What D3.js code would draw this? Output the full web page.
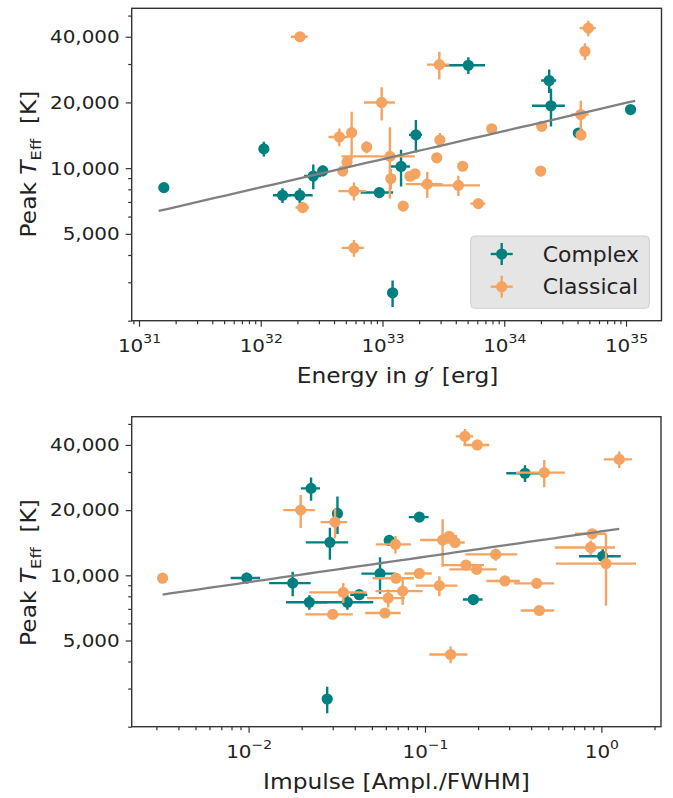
<!DOCTYPE html>
<html><head><meta charset="utf-8">
<script src="https://cdn.jsdelivr.net/npm/d3@7"></script>
<style>
body{margin:0;background:#fff}
svg{display:block}
text{font-family:"DejaVu Sans",sans-serif;fill:#222}
</style>
</head><body>
<svg id="c" width="673" height="798"></svg>
<script>
// ---------------- data ----------------
const seriesNames = ["Complex", "Classical"];
const seriesColors = ["#008080", "#f4a460"];

// Complex flares
const complexEnergy = [1.60e31, 1.06e32, 1.51e32, 2.09e32, 2.70e32, 3.23e32, 9.42e32, 1.21e33, 1.42e33, 1.88e33, 5.07e33, 2.34e34, 2.42e34, 4.06e34, 1.09e35];
const complexEnergyErr = [0.15e31, 0.08e32, 0.25e32, 0.58e32, 0.43e32, 0.30e32, 2.8e32, 0.07e33, 0.26e33, 0.23e33, 1.88e33, 0.33e34, 0.73e34, 0.20e34, 0.08e35];
const complexImpulse = [0.0424, 1.017, 0.0221, 0.0363, 0.01778, 0.00976, 0.188, 0.0279, 0.0556, 0.0289, 0.369, 0.0226, 0.0319, 0.0627, 0.0929];
const complexImpulseErr = [0.0047, 0.27, 0.0058, 0.0146, 0.0047, 0.00185, 0.024, 0.0008, 0.012, 0.0078, 0.08, 0.0028, 0.002, 0.004, 0.012];
const complexTemp = [8140, 12250, 7510, 7510, 9200, 9720, 7730, 2685, 10180, 14200, 29600, 25200, 19300, 14490, 18560];
const complexTempErr = [400, 950, 580, 580, 1200, 550, 400, 375, 1950, 2400, 2600, 3100, 3800, 400, 500];

// Classical flares
const classicalEnergy = [2.10e32, 9.84e32, 4.42e32, 5.58e32, 7.41e32, 1.15e33, 4.71e32, 5.11e32, 5.83e32, 1.17e33, 2.21e32, 5.83e32, 1.68e33, 1.85e33, 1.48e33, 2.33e33, 4.20e33, 2.79e33, 2.96e33, 4.56e33, 6.12e33, 2.93e33, 7.89e33, 2.03e34, 1.99e34, 4.25e34, 4.27e34, 4.90e34, 4.60e34];
const classicalEnergyErr = [0.33e32, 2.8e32, 0.82e32, 0.4e32, 0.4e32, 0.69e33, 0.4e32, 0.4e32, 1.49e32, 0.1e33, 0.28e32, 1.21e32, 0.1e33, 0.1e33, 0.12e33, 0.78e33, 2.13e33, 0.15e33, 0.15e33, 0.2e33, 0.86e33, 0.61e33, 0.3e33, 0.1e34, 0.1e34, 0.69e34, 0.2e34, 0.74e34, 0.2e34];
const classicalImpulse = [0.198, 0.01974, 0.068, 0.1259, 0.2517, 1.062, 0.0685, 0.1964, 0.0619, 0.1206, 0.02998, 0.1398, 0.4297, 0.284, 0.0593, 0.0747, 0.0344, 0.1708, 0.8696, 0.0929, 0.4446, 0.4745, 0.1373, 0.888, 0.003254, 0.0309, 0.148, 0.1685, 1.263];
const classicalImpulseErr = [0.033, 0.004, 0.0154, 0.032, 0.082, 0.51, 0.018, 0.059, 0.015, 0.032, 0.009, 0.034, 0.11, 0.061, 0.0135, 0.0224, 0.0123, 0.045, 0.325, 0.0164, 0.096, 0.147, 0.015, 0.18, 0.00017, 0.0053, 0.02, 0.019, 0.23];
const classicalTemp = [40000, 20000, 13900, 14550, 12490, 11320, 9700, 10650, 7850, 8960, 6600, 4310, 9180, 9420, 6700, 8450, 8340, 11150, 13450, 10200, 6880, 29800, 15150, 15550, 9700, 17600, 14180, 43800, 34300];
const classicalTempErr = [1000, 3460, 1300, 3600, 800, 4080, 500, 500, 740, 950, 280, 380, 300, 300, 300, 1150, 880, 400, 1030, 400, 300, 4300, 400, 500, 400, 2750, 500, 3600, 3000];

// Power-law fits: log10(T) = a + b*log10(x), drawn over xRange
const fitEnergyCoef = [-0.216, 0.129];
const fitEnergyRange = [1.45e31, 1.19e35];
const fitImpulseCoef = [4.2028, 0.1172];
const fitImpulseRange = [0.003254, 1.263];

// Axes
const yDomain = [2000, 54000];
const yTickValues = [5000, 10000, 20000, 40000];
const yTickLabels = ["5,000", "10,000", "20,000", "40,000"];
const energyDomain = [8.71e30, 1.957e35];
const impulseDomain = [0.002174, 2.178];
const energyMajorTicks = [1e31, 1e32, 1e33, 1e34, 1e35];
const impulseMajorTicks = [1e-2, 1e-1, 1e0];

// ---------------- drawing ----------------
const svg = d3.select('#c');
const STRETCH = 1.09;
const MARKER_R = 5.6;
const BAR_W = 2.4;

function minorLog(domain, majors) {
  const out = [];
  const lo = Math.floor(Math.log10(domain[0])), hi = Math.ceil(Math.log10(domain[1]));
  for (let e = lo; e <= hi; e++) for (let k = 1; k <= 9; k++) {
    const v = k * Math.pow(10, e);
    if (v >= domain[0] && v <= domain[1] && !majors.some(m => Math.abs(m - v) / v < 1e-9)) out.push(v);
  }
  return out;
}

function drawPanel(p, idx) {
  const x = d3.scaleLog().domain(p.xDomain).range([p.left, p.right]);
  const y = d3.scaleLog().domain(yDomain).range([p.bottom, p.top]);
  const g = svg.append('g');

  const clipId = 'clip' + idx;
  svg.append('clipPath').attr('id', clipId).append('rect')
    .attr('x', p.left).attr('y', p.top).attr('width', p.right - p.left).attr('height', p.bottom - p.top);

  // Y axis ticks
  const yMinor = minorLog(yDomain, yTickValues);
  g.append('g').attr('transform', `translate(${p.left},0)`)
    .call(d3.axisLeft(y).tickValues(yMinor).tickSize(3.5).tickFormat(''));
  const yAx = g.append('g').attr('transform', `translate(${p.left},0)`)
    .call(d3.axisLeft(y).tickValues(yTickValues).tickSize(6).tickPadding(5)
      .tickFormat((d) => yTickLabels[yTickValues.indexOf(d)]));
  yAx.selectAll('.tick text').attr('font-size', 18.3).attr('font-family', '"DejaVu Sans",sans-serif')
    .attr('transform', `scale(${STRETCH},1)`);

  // X axis ticks
  const xMinor = minorLog(p.xDomain, p.majors);
  g.append('g').attr('transform', `translate(0,${p.bottom})`)
    .call(d3.axisBottom(x).tickValues(xMinor).tickSize(3.5).tickFormat(''));
  const xAx = g.append('g').attr('transform', `translate(0,${p.bottom})`)
    .call(d3.axisBottom(x).tickValues(p.majors).tickSize(6).tickFormat(''));
  xAx.selectAll('.tick text').each(function (d) {
    const e = Math.round(Math.log10(d));
    const t = d3.select(this);
    t.text(null).attr('dy', null).attr('y', 31.5).attr('font-size', 18.3)
      .attr('font-family', '"DejaVu Sans",sans-serif').attr('transform', `scale(${STRETCH},1)`);
    t.append('tspan').text('10');
    t.append('tspan').attr('dy', -8.7).attr('font-size', 12.8).text(e < 0 ? '\u2212' + (-e) : String(e));
  });

  g.selectAll('.domain').remove();
  g.selectAll('.tick line').attr('stroke', '#333').attr('stroke-width', 1.2);
  g.selectAll('g').attr('color', '#222');

  // frame
  g.append('rect').attr('x', p.left).attr('y', p.top)
    .attr('width', p.right - p.left).attr('height', p.bottom - p.top)
    .attr('fill', 'none').attr('stroke', '#333').attr('stroke-width', 1.4);

  // data
  const plot = g.append('g').attr('clip-path', `url(#${clipId})`);
  p.series.forEach((s, si) => {
    const data = s.xs.map((v, i) => ({ x: v, xe: s.xe[i], y: s.ys[i], ye: s.ye[i] }));
    const col = seriesColors[si];
    const sg = plot.append('g');
    sg.selectAll(null).data(data).enter().append('line')
      .attr('x1', d => x(Math.max(d.x - d.xe, p.xDomain[0] * 0.5))).attr('x2', d => x(d.x + d.xe))
      .attr('y1', d => y(d.y)).attr('y2', d => y(d.y))
      .attr('stroke', col).attr('stroke-width', BAR_W);
    sg.selectAll(null).data(data).enter().append('line')
      .attr('x1', d => x(d.x)).attr('x2', d => x(d.x))
      .attr('y1', d => y(Math.max(d.y - d.ye, 10))).attr('y2', d => y(d.y + d.ye))
      .attr('stroke', col).attr('stroke-width', BAR_W);
    sg.selectAll(null).data(data).enter().append('circle')
      .attr('cx', d => x(d.x)).attr('cy', d => y(d.y)).attr('r', MARKER_R).attr('fill', col);
  });

  // fit line
  const fx = d3.range(0, 51).map(i => p.fitRange[0] * Math.pow(p.fitRange[1] / p.fitRange[0], i / 50));
  const line = d3.line().x(d => x(d)).y(d => y(Math.pow(10, p.fitCoef[0] + p.fitCoef[1] * Math.log10(d))));
  plot.append('path').datum(fx).attr('d', line).attr('fill', 'none')
    .attr('stroke', '#808080').attr('stroke-width', 2.3);

  // axis labels
  const xl = g.append('text').attr('transform', `translate(${p.xLabelX},${p.xLabelY}) scale(1.11,1)`)
    .attr('text-anchor', 'middle').attr('font-size', 21).style('white-space', 'pre');
  p.xLabel(xl);

  const yl = g.append('text').attr('transform', `translate(36,${p.yLabelY}) rotate(-90) scale(1.11,1)`)
    .attr('text-anchor', 'middle').attr('font-size', 21).style('white-space', 'pre');
  yl.append('tspan').text('Peak ');
  yl.append('tspan').attr('font-style', 'italic').text('T');
  yl.append('tspan').attr('dy', 4.5).attr('font-size', 14.7).text('Eff');
  yl.append('tspan').attr('dy', -4.5).text('  [K]');

  return { x, y, g };
}

drawPanel({
  left: 131.7, right: 661.5, top: 8.3, bottom: 320.7,
  xDomain: energyDomain, majors: energyMajorTicks,
  series: [
    { xs: complexEnergy, xe: complexEnergyErr, ys: complexTemp, ye: complexTempErr },
    { xs: classicalEnergy, xe: classicalEnergyErr, ys: classicalTemp, ye: classicalTempErr }
  ],
  fitCoef: fitEnergyCoef, fitRange: fitEnergyRange,
  xLabelX: 397.5, xLabelY: 383.3, yLabelY: 164,
  xLabel: (t) => {
    t.append('tspan').text('Energy in ');
    t.append('tspan').attr('font-style', 'italic').text('g');
    t.append('tspan').text('\u2032 [erg]');
  }
}, 0);

drawPanel({
  left: 131.7, right: 661, top: 416.7, bottom: 726.7,
  xDomain: impulseDomain, majors: impulseMajorTicks,
  series: [
    { xs: complexImpulse, xe: complexImpulseErr, ys: complexTemp, ye: complexTempErr },
    { xs: classicalImpulse, xe: classicalImpulseErr, ys: classicalTemp, ye: classicalTempErr }
  ],
  fitCoef: fitImpulseCoef, fitRange: fitImpulseRange,
  xLabelX: 396.5, xLabelY: 789, yLabelY: 572.5,
  xLabel: (t) => { t.text('Impulse [Ampl./FWHM]'); }
}, 1);

// legend (top panel)
const lg = svg.append('g');
lg.append('rect').attr('x', 470.7).attr('y', 236).attr('width', 178.6).attr('height', 72.3)
  .attr('rx', 4).attr('fill', '#e5e5e5').attr('stroke', '#cfcfcf').attr('stroke-width', 1);
seriesNames.forEach((name, i) => {
  const cy = 254 + i * 32.7, cx = 501.7, col = seriesColors[i];
  lg.append('line').attr('x1', cx - 11).attr('x2', cx + 11).attr('y1', cy).attr('y2', cy)
    .attr('stroke', col).attr('stroke-width', BAR_W);
  lg.append('line').attr('x1', cx).attr('x2', cx).attr('y1', cy - 11).attr('y2', cy + 11)
    .attr('stroke', col).attr('stroke-width', BAR_W);
  lg.append('circle').attr('cx', cx).attr('cy', cy).attr('r', MARKER_R).attr('fill', col);
  lg.append('text').attr('transform', `translate(542.7,${cy + 7.5}) scale(1.07,1)`)
    .attr('font-size', 20.5).text(name);
});
</script>
</body></html>
